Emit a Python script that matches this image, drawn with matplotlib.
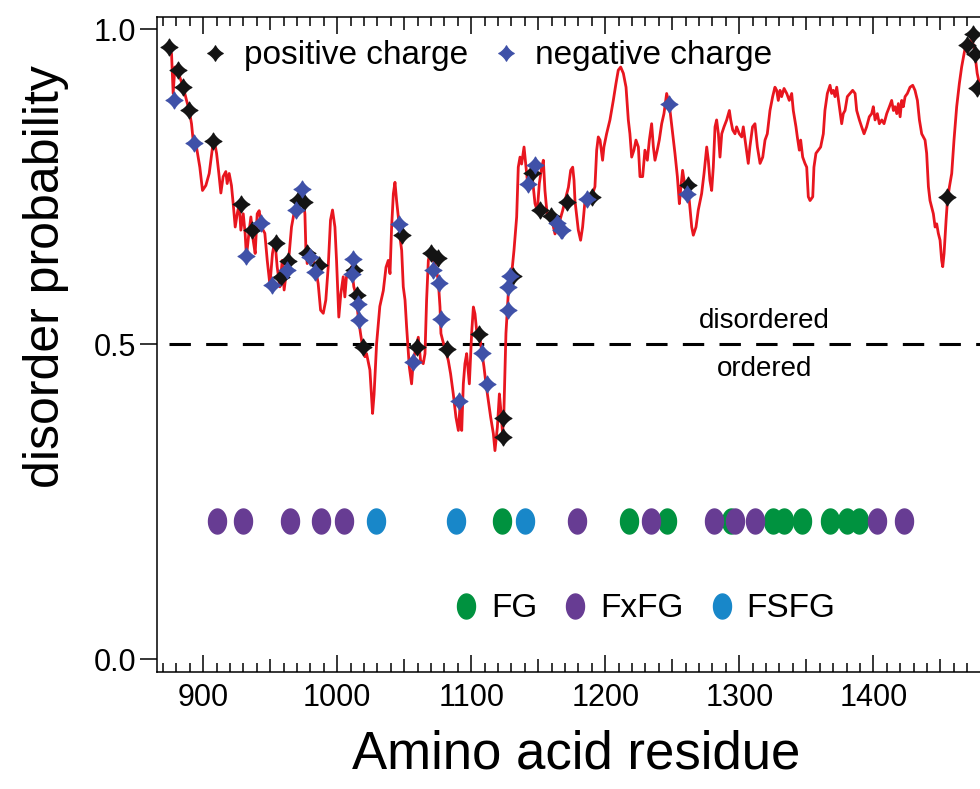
import numpy as np
import matplotlib
matplotlib.use('Agg')
import matplotlib.pyplot as plt
from matplotlib.path import Path
from matplotlib.lines import Line2D
from matplotlib.ticker import MultipleLocator, FuncFormatter

plt.rcParams['font.family'] = ['Liberation Sans', 'DejaVu Sans']

# disorder profile (residue, probability)
residue = [
    874.6, 876.4, 877.6, 878.9, 881.3, 885.1, 887.6, 889.6, 891.3, 892.5, 895.0, 897.5, 899.5,
    902.0, 904.5, 907.0, 908.7, 910.0, 911.7, 913.2, 914.9, 916.9, 917.9, 919.4, 921.1, 922.4,
    923.9, 925.4, 926.9, 928.1, 929.9, 931.3, 932.3, 934.1, 935.6, 937.3, 938.8, 940.3, 941.8,
    943.5, 946.0, 947.8, 949.8, 951.7, 953.5, 955.2, 957.2, 959.0, 960.4, 962.2, 964.2, 965.9,
    967.7, 969.7, 971.6, 974.1, 975.9, 976.6, 977.6, 979.6, 981.6, 983.3, 985.8, 987.6, 989.6,
    991.5, 993.3, 995.0, 996.5, 998.3, 999.5, 1001.2, 1002.7, 1004.5, 1005.7, 1006.9, 1009.0,
    1010.7, 1012.4, 1013.9, 1015.7, 1017.4, 1018.9, 1020.7, 1021.9, 1024.4, 1026.4, 1027.5,
    1029.4, 1031.8, 1034.4, 1036.4, 1038.1, 1039.4, 1040.6, 1041.9, 1043.1, 1044.3, 1045.6,
    1046.8, 1048.1, 1049.3, 1050.6, 1051.8, 1053.8, 1055.5, 1056.8, 1058.8, 1060.5, 1062.2,
    1064.2, 1065.5, 1066.7, 1068.0, 1069.2, 1071.7, 1073.7, 1075.4, 1076.7, 1077.4, 1078.7,
    1080.4, 1082.9, 1084.6, 1086.6, 1088.6, 1090.4, 1091.6, 1092.9, 1094.1, 1095.3, 1096.6,
    1098.6, 1100.3, 1101.6, 1102.8, 1104.0, 1106.0, 1107.8, 1109.5, 1111.0, 1112.7, 1114.5,
    1116.5, 1117.7, 1119.5, 1121.0, 1121.9, 1123.4, 1124.4, 1125.9, 1126.9, 1128.2, 1130.2,
    1131.9, 1133.9, 1135.1, 1136.4, 1137.6, 1139.4, 1140.9, 1142.6, 1144.3, 1145.8, 1147.6,
    1149.3, 1150.8, 1152.6, 1153.8, 1155.0, 1156.8, 1158.8, 1160.8, 1162.5, 1164.2, 1166.2,
    1168.2, 1170.0, 1172.5, 1174.2, 1175.7, 1176.7, 1177.4, 1179.9, 1181.6, 1183.1, 1184.9,
    1187.5, 1189.8, 1192.3, 1193.6, 1194.8, 1196.1, 1198.0, 1199.0, 1201.0, 1203.5, 1206.0,
    1208.0, 1209.7, 1211.5, 1213.5, 1215.5, 1217.2, 1218.4, 1219.7, 1221.4, 1222.9, 1224.7,
    1225.9, 1227.9, 1229.6, 1231.4, 1232.9, 1234.6, 1235.9, 1237.1, 1238.8, 1240.3, 1242.1,
    1243.8, 1245.8, 1247.8, 1248.3, 1250.3, 1252.0, 1253.8, 1255.3, 1256.2, 1257.7, 1259.5,
    1260.7, 1262.7, 1264.5, 1265.7, 1267.7, 1269.4, 1271.9, 1273.7, 1275.7, 1276.9, 1278.1,
    1279.4, 1280.6, 1281.9, 1283.1, 1284.4, 1285.6, 1286.9, 1288.6, 1290.6, 1292.6, 1293.6,
    1295.1, 1296.8, 1298.0, 1300.0, 1301.8, 1303.0, 1305.0, 1306.7, 1307.9, 1309.9, 1311.7,
    1313.5, 1315.5, 1317.5, 1319.2, 1320.9, 1322.9, 1324.9, 1326.6, 1327.9, 1329.1, 1330.4,
    1331.6, 1333.4, 1335.4, 1337.3, 1339.1, 1340.3, 1342.3, 1343.3, 1344.8, 1345.8, 1347.3,
    1349.0, 1350.3, 1351.5, 1352.8, 1354.8, 1355.7, 1357.2, 1359.0, 1360.7, 1362.7, 1363.9,
    1365.7, 1367.7, 1368.9, 1370.2, 1371.4, 1372.7, 1374.7, 1376.4, 1377.6, 1378.9, 1380.6,
    1382.6, 1384.6, 1386.4, 1387.6, 1389.6, 1391.3, 1393.1, 1395.0, 1397.0, 1398.8, 1400.0,
    1401.3, 1403.0, 1404.5, 1406.3, 1408.0, 1410.0, 1412.0, 1413.7, 1415.0, 1416.2, 1417.5,
    1418.7, 1420.0, 1421.2, 1422.4, 1423.7, 1425.4, 1427.4, 1429.4, 1431.1, 1432.9, 1434.4,
    1436.1, 1438.6, 1439.8, 1441.1, 1442.3, 1443.5, 1444.8, 1446.1, 1447.3, 1448.5, 1449.8,
    1451.0, 1451.8, 1452.8, 1454.3, 1455.3, 1456.8, 1458.5, 1460.2, 1462.2, 1464.2, 1465.9,
    1467.7, 1469.2, 1472.2, 1475.0, 1477.5, 1479.5,
]
disorder = [
    0.972, 0.961, 0.898, 0.940, 0.932, 0.908, 0.887, 0.871, 0.850, 0.824, 0.813, 0.781, 0.744,
    0.752, 0.771, 0.813, 0.818, 0.803, 0.771, 0.740, 0.766, 0.774, 0.755, 0.771, 0.752, 0.723,
    0.686, 0.707, 0.723, 0.681, 0.707, 0.676, 0.639, 0.676, 0.702, 0.665, 0.644, 0.707, 0.712,
    0.686, 0.676, 0.633, 0.594, 0.644, 0.665, 0.623, 0.591, 0.633, 0.586, 0.617, 0.644, 0.686,
    0.707, 0.718, 0.729, 0.739, 0.707, 0.654, 0.628, 0.639, 0.633, 0.628, 0.596, 0.554, 0.549,
    0.570, 0.623, 0.697, 0.713, 0.686, 0.633, 0.543, 0.580, 0.607, 0.575, 0.607, 0.607,
    0.623, 0.591, 0.580, 0.543, 0.517, 0.496, 0.480, 0.485, 0.459, 0.390, 0.420,
    0.501, 0.560, 0.585, 0.622, 0.633, 0.612, 0.686, 0.739, 0.757, 0.728, 0.702,
    0.670, 0.649, 0.591, 0.570, 0.527, 0.464, 0.437, 0.474, 0.495, 0.511, 0.474,
    0.469, 0.485, 0.570, 0.633, 0.644, 0.633, 0.622, 0.601, 0.559, 0.517, 0.506,
    0.493, 0.474, 0.453, 0.421, 0.384, 0.363, 0.400, 0.363, 0.437, 0.469, 0.485,
    0.437, 0.517, 0.559, 0.548, 0.522, 0.517, 0.490, 0.464, 0.437, 0.411, 0.384,
    0.358, 0.331, 0.368, 0.421, 0.400, 0.358, 0.395, 0.517, 0.554, 0.601, 0.612,
    0.649, 0.702, 0.781, 0.797, 0.786, 0.813, 0.781, 0.744, 0.771, 0.760, 0.723,
    0.712, 0.755, 0.781, 0.792, 0.744, 0.702, 0.697, 0.691, 0.675, 0.686, 0.697,
    0.712, 0.728, 0.749, 0.776, 0.781, 0.760, 0.728, 0.681, 0.665, 0.686, 0.728,
    0.735, 0.734, 0.750, 0.808, 0.829, 0.824, 0.792, 0.813, 0.834, 0.856, 0.887,
    0.914, 0.935, 0.940, 0.930, 0.908, 0.856, 0.834, 0.797, 0.808, 0.824, 0.813,
    0.766, 0.766, 0.808, 0.792, 0.824, 0.850, 0.813, 0.792, 0.808, 0.824, 0.850,
    0.866, 0.898, 0.881, 0.871, 0.834, 0.803, 0.766, 0.723, 0.744, 0.776, 0.750,
    0.739, 0.728, 0.686, 0.673, 0.686, 0.713, 0.739, 0.771, 0.813, 0.792, 0.760,
    0.744, 0.781, 0.845, 0.856, 0.834, 0.797, 0.834, 0.845, 0.856, 0.871, 0.856,
    0.840, 0.834, 0.845, 0.834, 0.829, 0.845, 0.813, 0.787, 0.813, 0.845, 0.850,
    0.813, 0.787, 0.797, 0.824, 0.834, 0.871, 0.893, 0.908, 0.903, 0.887, 0.903,
    0.893, 0.906, 0.898, 0.887, 0.898, 0.871, 0.845, 0.829, 0.808, 0.824, 0.797,
    0.787, 0.781, 0.734, 0.728, 0.734, 0.781, 0.803, 0.808, 0.813, 0.834, 0.871,
    0.898, 0.911, 0.898, 0.903, 0.893, 0.908, 0.877, 0.850, 0.866, 0.871, 0.893,
    0.898, 0.903, 0.898, 0.871, 0.856, 0.845, 0.834, 0.845, 0.861, 0.866, 0.877,
    0.856, 0.866, 0.850, 0.856, 0.850, 0.866, 0.877, 0.887, 0.871, 0.877, 0.866,
    0.882, 0.861, 0.887, 0.877, 0.893, 0.898, 0.908, 0.911, 0.903, 0.887, 0.856,
    0.834, 0.824, 0.803, 0.750, 0.728, 0.718, 0.707, 0.686, 0.691, 0.676, 0.665,
    0.633, 0.623, 0.644, 0.697, 0.728, 0.750, 0.771, 0.824, 0.877, 0.914, 0.940,
    0.961, 0.977, 0.982, 0.975, 0.930, 0.910,
]

# charged residues
pos_res = [874.4, 881.3, 885.1, 889.6, 907.5, 927.9, 936.8, 954.2, 957.7, 963.4, 970.9,
           975.1, 977.1, 986.6, 1012.4, 1014.4, 1019.4, 1048.1, 1059.3, 1069.7, 1075.4,
           1081.6, 1105.8, 1123.4, 1124.0, 1131.4, 1145.1, 1151.3, 1159.3, 1171.2, 1189.8,
           1262.0, 1454.8, 1469.7, 1474.7, 1475.9, 1477.1]
pos_val = [0.972, 0.935, 0.909, 0.871, 0.823, 0.722, 0.681, 0.661, 0.606, 0.632, 0.729,
           0.726, 0.645, 0.626, 0.618, 0.578, 0.495, 0.673, 0.495, 0.644, 0.637,
           0.493, 0.516, 0.352, 0.382, 0.609, 0.771, 0.713, 0.704, 0.726, 0.734,
           0.752, 0.734, 0.975, 0.993, 0.961, 0.906]
neg_res = [878.1, 893.3, 932.3, 943.5, 951.7, 962.2, 969.2, 974.1, 979.6, 983.3, 1011.4,
           1011.9, 1015.7, 1016.2, 1046.3, 1056.8, 1071.7, 1076.2, 1077.2, 1091.1, 1107.8,
           1112.0, 1127.2, 1127.7, 1128.9, 1142.1, 1147.6, 1163.7, 1166.7, 1167.4, 1186.1,
           1247.8, 1260.7]
neg_val = [0.887, 0.820, 0.640, 0.693, 0.594, 0.617, 0.713, 0.747, 0.639, 0.615, 0.612,
           0.636, 0.563, 0.538, 0.690, 0.472, 0.617, 0.597, 0.540, 0.410, 0.486,
           0.436, 0.555, 0.591, 0.609, 0.755, 0.784, 0.692, 0.681, 0.682, 0.731,
           0.881, 0.739]

# FG repeat motifs
fg_res = [1123, 1218, 1246, 1294, 1325, 1333, 1347, 1368, 1380, 1389]
fxfg_res = [910, 930, 965, 988, 1005, 1179, 1234, 1281, 1297, 1312, 1403, 1423]
fsfg_res = [1029, 1089, 1140]
motif_level = 0.22
threshold = 0.5


def star_marker(p=2.5, n=120):
    t = np.linspace(0, 2 * np.pi, n)
    c, s = np.cos(t), np.sin(t)
    x = np.sign(c) * np.abs(c) ** p
    y = np.sign(s) * np.abs(s) ** p
    return Path(np.column_stack([x, y]), closed=True)


def oval_marker(ratio=0.72, n=60):
    t = np.linspace(0, 2 * np.pi, n)
    return Path(np.column_stack([ratio * np.cos(t), np.sin(t)]), closed=True)


star = star_marker()
oval = oval_marker()

red = '#e8161f'
black = '#141414'
blue = '#3f51a8'
green = '#00923f'
purple = '#673c93'
cyan = '#1887c9'

fig = plt.figure(figsize=(9.8, 7.89), dpi=100)
ax = fig.add_axes([0.160, 0.1487, 0.840, 0.8302])

ax.plot(residue, disorder, color=red, lw=2.0, zorder=2)
ax.hlines(threshold, residue[0], 1480, colors='black', lw=2.2,
          linestyles=(0, (7, 5)), zorder=1)

ax.plot(pos_res, pos_val, ls='none', marker=star, ms=12, color=black, zorder=3)
ax.plot(neg_res, neg_val, ls='none', marker=star, ms=12, color=blue, zorder=4)

dot_ms = 18
ax.plot(fg_res, [motif_level] * len(fg_res), ls='none', marker=oval, ms=dot_ms, color=green)
ax.plot(fxfg_res, [motif_level] * len(fxfg_res), ls='none', marker=oval, ms=dot_ms, color=purple)
ax.plot(fsfg_res, [motif_level] * len(fsfg_res), ls='none', marker=oval, ms=dot_ms, color=cyan)

ax.text(1319, 0.536, 'disordered', ha='center', va='center', fontsize=20)
ax.text(1319, 0.460, 'ordered', ha='center', va='center', fontsize=20)

ax.set_xlim(865.4, 1479.6)
ax.set_ylim(-0.02, 1.02)

ax.xaxis.set_major_locator(MultipleLocator(50))
ax.xaxis.set_minor_locator(MultipleLocator(10))
ax.xaxis.set_major_formatter(FuncFormatter(lambda v, p: '%d' % v if v % 100 == 0 else ''))
ax.set_yticks([0.0, 0.5, 1.0])
ax.set_yticklabels(['0.0', '0.5', '1.0'])

ax.tick_params(axis='x', which='both', direction='in', top=True, bottom=True,
               labelsize=22, width=1.1, pad=8)
ax.tick_params(axis='x', which='major', length=12)
ax.tick_params(axis='x', which='minor', length=6.5)
ax.tick_params(axis='y', direction='out', length=12, width=1.1, labelsize=22, pad=3)

for loc, tick in zip(ax.get_xticks(), ax.xaxis.get_major_ticks()):
    if loc % 100:
        tick.tick1line.set_markersize(9.4)
        tick.tick2line.set_markersize(9.4)

for side in ['left', 'bottom', 'top']:
    ax.spines[side].set_linewidth(1.1)
ax.spines['right'].set_visible(False)

ax.set_xlabel('Amino acid residue', fontsize=38)
ax.set_ylabel('disorder probability', fontsize=36)
ax.xaxis.set_label_coords(0.510, -0.088)
ax.yaxis.set_label_coords(-0.107, 0.603)

charge_handles = [Line2D([], [], ls='none', marker=star, ms=11, color=black),
                  Line2D([], [], ls='none', marker=star, ms=11, color=blue)]
leg1 = ax.legend(charge_handles, ['positive charge', 'negative charge'], loc='center',
                 bbox_to_anchor=(0.399, 0.940), ncol=2, frameon=False, fontsize=24,
                 handlelength=1.0, handletextpad=0.38, columnspacing=0.62,
                 borderpad=0, borderaxespad=0)
ax.add_artist(leg1)

motif_handles = [Line2D([], [], ls='none', marker=oval, ms=dot_ms, color=c)
                 for c in [green, purple, cyan]]
ax.legend(motif_handles, ['FG', 'FxFG', 'FSFG'], loc='center',
          bbox_to_anchor=(0.590, 0.096), ncol=3, frameon=False, fontsize=24,
          handlelength=1.0, handletextpad=0.25, columnspacing=0.64,
          borderpad=0, borderaxespad=0)

fig.savefig('out.png', dpi=100)
